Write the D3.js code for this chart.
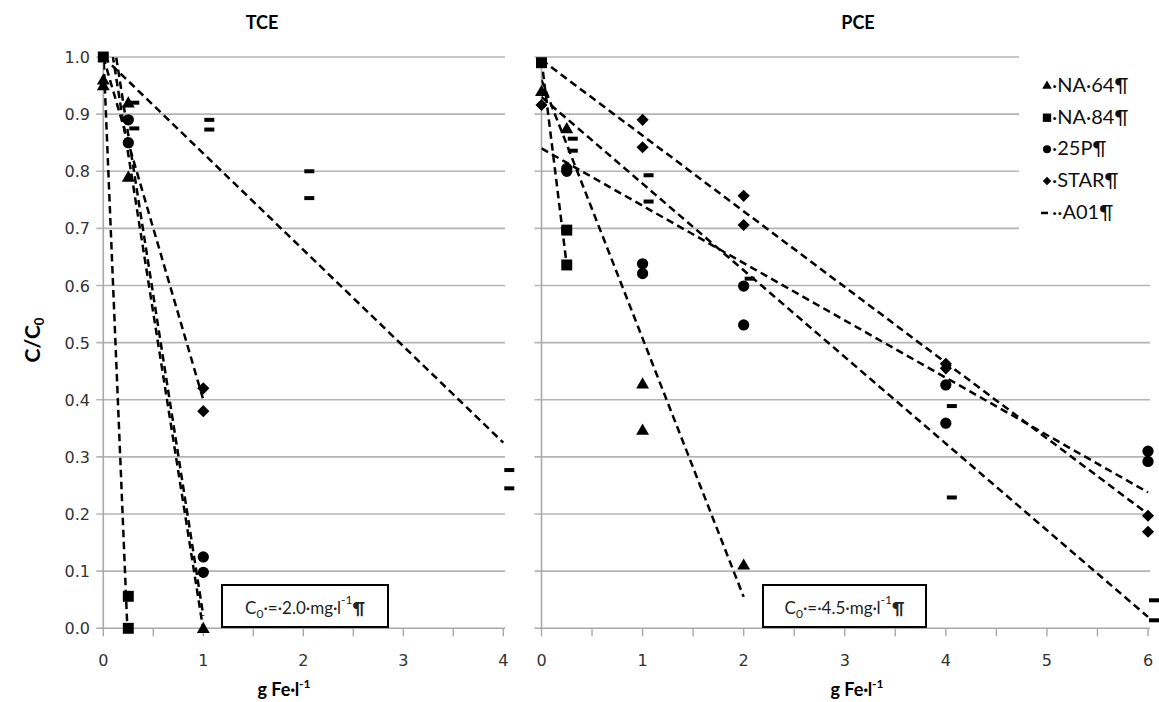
<!DOCTYPE html>
<html><head><meta charset="utf-8">
<script src="https://cdn.jsdelivr.net/npm/d3@7"></script>
<style>body{margin:0;background:#fff}svg{display:block}</style>
</head><body>
<svg id="chart" width="1159" height="702"></svg>
<script>
// ---------- DATA ----------
const yTicks = [0,0.1,0.2,0.3,0.4,0.5,0.6,0.7,0.8,0.9,1.0];
const tceXTicks = [0,1,2,3,4];
const pceXTicks = [0,1,2,3,4,5,6];
const seriesNames = ["NA·64¶","NA·84¶","25P¶","STAR¶","A01¶"];

// TCE (left panel) points [g Fe/l, C/C0]
const tceNA64 = [[0,0.96],[0,0.95],[0.25,0.92],[0.25,0.79],[1,0.0]];
const tceNA84 = [[0,1.0],[0.25,0.056],[0.25,0.0]];
const tce25P  = [[0.25,0.89],[0.25,0.85],[1,0.125],[1,0.098]];
const tceSTAR = [[1,0.42],[1,0.38]];
const tceA01  = [[0.25,0.92],[0.25,0.875],[1,0.89],[1,0.873],[2,0.80],[2,0.753],[4,0.277],[4,0.245]];
// TCE trendlines (start, end)
const tceTrendNA64 = [[0,1.107],[1,-0.003]];
const tceTrendNA84 = [[0,1.012],[0.25,-0.04]];
const tceTrend25P  = [[0,1.144],[1,0.022]];
const tceTrendSTAR = [[0,1.0],[1,0.40]];
const tceTrendA01  = [[0,1.0],[4,0.325]];

// PCE (right panel)
const pceNA64 = [[0,0.94],[0.25,0.875],[1,0.428],[1,0.347],[2,0.111]];
const pceNA84 = [[0,0.99],[0.25,0.697],[0.25,0.636]];
const pce25P  = [[0.25,0.805],[0.25,0.80],[1,0.638],[1,0.621],[2,0.599],[2,0.531],[4,0.426],[4,0.359],[6,0.31],[6,0.292]];
const pceSTAR = [[0,0.916],[1,0.89],[1,0.842],[2,0.757],[2,0.706],[4,0.463],[4,0.455],[6,0.197],[6,0.169]];
const pceA01  = [[0.25,0.857],[0.25,0.836],[1,0.793],[1,0.747],[2,0.612],[4,0.389],[4,0.229],[6,0.049],[6,0.014]];
const pceTrendNA64 = [[0,0.96],[2,0.055]];
const pceTrendNA84 = [[0,0.995],[0.25,0.635]];
const pceTrend25P  = [[0,0.84],[6,0.238]];
const pceTrendSTAR = [[0,0.995],[6,0.20]];
const pceTrendA01  = [[0,0.93],[6,0.02]];

// ---------- DRAW ----------
const svg = d3.select("#chart");
const y = d3.scaleLinear().domain([0,1]).range([628.3,57]);
const GRID = "#b4b4b4", AXIS = "#a8a8a8";
const tickFont = "'DejaVu Sans', Verdana, sans-serif";
const txtFont = "Lato, 'Open Sans', sans-serif";

function panel(id, x, xTicks, pts, trends, showYLabels, gridRight) {
  const g = svg.append("g");
  const [x0, x1] = x.range();
  const dom = x.domain();
  g.selectAll("line.grid").data(yTicks.filter(v => v > 0)).join("line")
    .attr("x1", x0 - 7).attr("x2", gridRight)
    .attr("y1", d => y(d)).attr("y2", d => y(d))
    .attr("stroke", GRID).attr("stroke-width", 1.6);
  g.append("line").attr("x1", x0).attr("x2", x0).attr("y1", y(1)).attr("y2", y(0))
    .attr("stroke", AXIS).attr("stroke-width", 1.6);
  g.append("line").attr("x1", x0 - 7).attr("x2", gridRight).attr("y1", y(0)).attr("y2", y(0))
    .attr("stroke", AXIS).attr("stroke-width", 1.6);
  const half = d3.range(dom[0], dom[1] + 0.001, 0.5);
  g.selectAll("line.xt").data(half).join("line")
    .attr("x1", d => x(d)).attr("x2", d => x(d)).attr("y1", y(0)).attr("y2", y(0) + 8)
    .attr("stroke", AXIS).attr("stroke-width", 1.4);
  g.selectAll("text.xl").data(xTicks).join("text")
    .attr("x", d => x(d)).attr("y", 666).attr("text-anchor", "middle")
    .attr("font-family", tickFont).attr("font-size", 16).attr("fill", "#333")
    .text(d => d);
  if (showYLabels) {
    g.selectAll("text.yl").data(yTicks).join("text")
      .attr("x", 90).attr("y", d => y(d) + 6).attr("text-anchor", "end")
      .attr("font-family", tickFont).attr("font-size", 16).attr("fill", "#333")
      .text(d => d.toFixed(1));
  }
  const clipId = "clip" + id;
  svg.append("clipPath").attr("id", clipId).append("rect")
    .attr("x", x0).attr("y", y(1)).attr("width", x1 - x0 + 2).attr("height", y(0) - y(1));
  const line = d3.line().x(d => x(d[0])).y(d => y(d[1]));
  g.append("g").attr("clip-path", `url(#${clipId})`)
    .selectAll("path").data(trends).join("path")
    .attr("d", line).attr("fill", "none").attr("stroke", "#000")
    .attr("stroke-width", 2.5).attr("stroke-dasharray", "7.5,4.5");
  const tri = d3.symbol().type(d3.symbolTriangle).size(72);
  const sq = d3.symbol().type(d3.symbolSquare).size(120);
  const circ = d3.symbol().type(d3.symbolCircle).size(100);
  const dia = d3.symbol().type(d3.symbolSquare).size(74);
  const m = g.append("g");
  m.selectAll("rect.a01").data(pts.A01).join("rect")
    .attr("x", d => x(d[0]) + 1).attr("y", d => y(d[1]) - 2).attr("width", 10).attr("height", 4).attr("fill", "#000");
  m.selectAll("path.star").data(pts.STAR).join("path").attr("d", dia)
    .attr("transform", d => `translate(${x(d[0])},${y(d[1])}) rotate(45)`).attr("fill", "#000");
  m.selectAll("path.p25").data(pts.P25).join("path").attr("d", circ)
    .attr("transform", d => `translate(${x(d[0])},${y(d[1])})`).attr("fill", "#000");
  m.selectAll("path.na84").data(pts.NA84).join("path").attr("d", sq)
    .attr("transform", d => `translate(${x(d[0])},${y(d[1])})`).attr("fill", "#000");
  m.selectAll("path.na64").data(pts.NA64).join("path").attr("d", tri)
    .attr("transform", d => `translate(${x(d[0])},${y(d[1]) + 1})`).attr("fill", "#000");
}

const xL = d3.scaleLinear().domain([0,4]).range([103.3,503.3]);
const xR = d3.scaleLinear().domain([0,6]).range([541.5,1148]);

panel("L", xL, tceXTicks,
  {NA64: tceNA64, NA84: tceNA84, P25: tce25P, STAR: tceSTAR, A01: tceA01},
  [tceTrendNA84, tceTrendNA64, tceTrend25P, tceTrendSTAR, tceTrendA01], true, 505);
panel("R", xR, pceXTicks,
  {NA64: pceNA64, NA84: pceNA84, P25: pce25P, STAR: pceSTAR, A01: pceA01},
  [pceTrendNA84, pceTrendNA64, pceTrend25P, pceTrendSTAR, pceTrendA01], false, 1150);

// titles
svg.append("text").attr("x", 262).attr("y", 29).attr("text-anchor", "middle")
  .attr("font-family", txtFont).attr("font-weight", "bold").attr("font-size", 18).text("TCE");
svg.append("text").attr("x", 858).attr("y", 29).attr("text-anchor", "middle")
  .attr("font-family", txtFont).attr("font-weight", "bold").attr("font-size", 18).text("PCE");

// y axis title
const yt = svg.append("text").attr("transform", "translate(40,340) rotate(-90)")
  .attr("text-anchor", "middle").attr("font-family", txtFont).attr("font-weight", "bold").attr("font-size", 21);
yt.append("tspan").text("C/C");
yt.append("tspan").attr("font-size", 13).attr("dy", 4).text("0");

// x axis titles
[[284],[857]].forEach(([cx]) => {
  const t = svg.append("text").attr("x", cx).attr("y", 696).attr("text-anchor", "middle")
    .attr("font-family", txtFont).attr("font-weight", "bold").attr("font-size", 18);
  t.append("tspan").text("g Fe·l");
  t.append("tspan").attr("font-size", 12).attr("dy", -8).text("-1");
});

// concentration boxes
function c0Box(x0, x1, val) {
  svg.append("rect").attr("x", x0).attr("y", 585).attr("width", x1 - x0).attr("height", 42)
    .attr("fill", "#fff").attr("stroke", "#000").attr("stroke-width", 2);
  const t = svg.append("text").attr("x", (x0 + x1) / 2).attr("y", 614).attr("text-anchor", "middle")
    .attr("font-family", txtFont).attr("font-size", 17).attr("fill", "#222");
  t.append("tspan").text("C");
  t.append("tspan").attr("font-size", 12).attr("dy", 4).text("0");
  t.append("tspan").attr("dy", -4).text("·=·" + val + "·mg·l");
  t.append("tspan").attr("font-size", 12).attr("dy", -10).text("-1");
  t.append("tspan").attr("dy", 10).attr("font-weight", "bold").text("¶");
}
c0Box(222, 388, "2.0");
c0Box(763, 926, "4.5");

// legend
svg.append("rect").attr("x", 1019).attr("y", 40).attr("width", 140).attr("height", 200).attr("fill", "#fff");
const legY = [85, 116.7, 148.3, 180, 211.7];
const lg = svg.append("g");
const legSym = [
  d3.symbol().type(d3.symbolTriangle).size(40),
  d3.symbol().type(d3.symbolSquare).size(70),
  d3.symbol().type(d3.symbolCircle).size(50),
  d3.symbol().type(d3.symbolSquare).size(36),
  null
];
seriesNames.forEach((name, i) => {
  const cy = legY[i];
  if (legSym[i]) {
    lg.append("path").attr("d", legSym[i])
      .attr("transform", `translate(1047,${cy + 1})` + (i === 3 ? " rotate(45)" : "")).attr("fill", "#000");
  } else {
    lg.append("rect").attr("x", 1041).attr("y", cy).attr("width", 7).attr("height", 2.5).attr("fill", "#000");
  }
  lg.append("text").attr("x", 1052).attr("y", cy + 7).attr("font-family", txtFont)
    .attr("font-size", 20).attr("fill", "#111").text((i === 4 ? "··" : "·") + name);
});
</script>
</body></html>
